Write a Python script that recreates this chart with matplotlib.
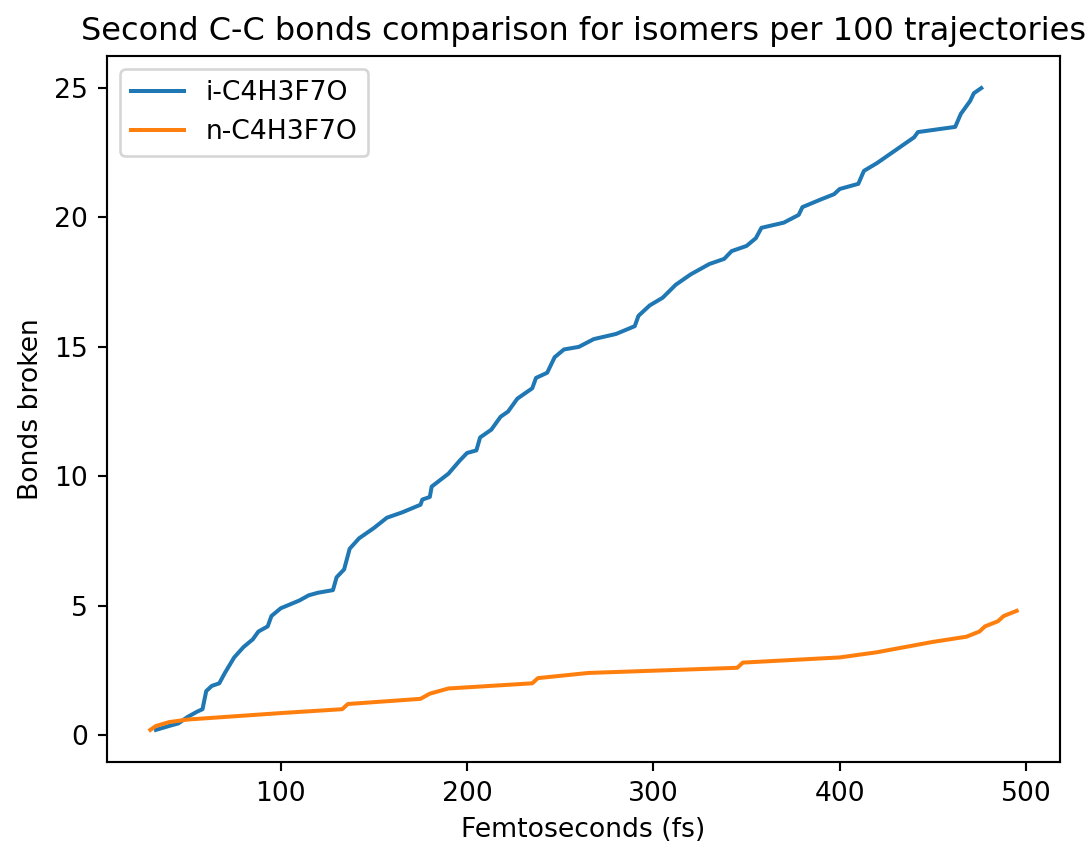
import numpy as np
import matplotlib.pyplot as plt

# cumulative second C-C bonds broken, per 100 trajectories
t_iso = [33, 40, 45, 50, 55, 58, 60, 63, 67, 70, 75, 80, 85, 88, 93, 95, 100,
         110, 115, 120, 128, 130, 134, 137, 142, 150, 157, 165, 175, 176, 180,
         181, 190, 196, 200, 205, 207, 213, 218, 222, 227, 235, 237, 243, 247,
         252, 260, 268, 280, 290, 292, 298, 305, 312, 320, 330, 338, 342, 350,
         355, 358, 370, 378, 380, 390, 397, 400, 410, 413, 420, 430, 440, 442,
         462, 465, 470, 472, 476]
b_iso = [0.2, 0.35, 0.45, 0.7, 0.9, 1.0, 1.7, 1.9, 2.0, 2.4, 3.0, 3.4, 3.7,
         4.0, 4.2, 4.6, 4.9, 5.2, 5.4, 5.5, 5.6, 6.1, 6.4, 7.2, 7.6, 8.0, 8.4,
         8.6, 8.9, 9.1, 9.2, 9.6, 10.1, 10.6, 10.9, 11.0, 11.5, 11.8, 12.3,
         12.5, 13.0, 13.4, 13.8, 14.0, 14.6, 14.9, 15.0, 15.3, 15.5, 15.8, 16.2,
         16.6, 16.9, 17.4, 17.8, 18.2, 18.4, 18.7, 18.9, 19.2, 19.6, 19.8, 20.1,
         20.4, 20.7, 20.9, 21.1, 21.3, 21.8, 22.1, 22.6, 23.1, 23.3, 23.5, 24.0,
         24.5, 24.8, 25.0]

t_n = [30, 33, 40, 50, 100, 133, 136, 175, 180, 190, 235, 238, 265, 345, 348,
       400, 420, 450, 468, 475, 478, 485, 488, 495]
b_n = [0.2, 0.35, 0.5, 0.6, 0.85, 1.0, 1.2, 1.4, 1.6, 1.8, 2.0, 2.2, 2.4, 2.6,
       2.8, 3.0, 3.2, 3.6, 3.8, 4.0, 4.2, 4.4, 4.6, 4.8]

dpi = 192
fig = plt.figure(figsize=(1092 / dpi, 843 / dpi), dpi=dpi)
ax = fig.add_axes([0.098, 0.0961, 0.8727, 0.8375])

ax.plot(t_iso, b_iso, label='i-C4H3F7O')
ax.plot(t_n, b_n, label='n-C4H3F7O')

ax.set_title('Second C-C bonds comparison for isomers per 100 trajectories')
ax.set_xlabel('Femtoseconds (fs)')
ax.set_ylabel('Bonds broken')
ax.legend(loc='upper left')

fig.savefig('out.png', dpi=dpi)
